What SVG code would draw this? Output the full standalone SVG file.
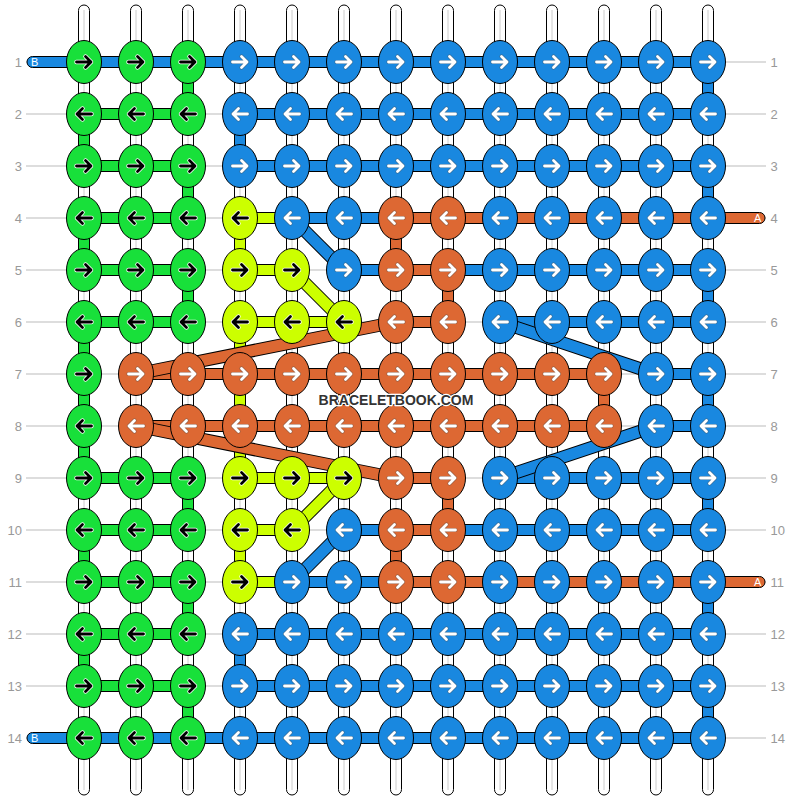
<svg xmlns="http://www.w3.org/2000/svg" width="792" height="800" viewBox="0 0 792 800">
<style>
.gl{stroke:#bbb;stroke-width:1}
.lb{font-family:"Liberation Sans",Arial,sans-serif;font-size:13px;fill:#999}
.wp{fill:#fff;stroke:#000;stroke-width:1}
.wc{stroke:#ccc;stroke-width:1}
.bar{stroke:#000;stroke-width:1}
.cG{fill:#18E03A}.cB{fill:#1988E0}.cO{fill:#DD6833}.cY{fill:#CCFF00}
.dk{stroke:#000;stroke-width:13}
.sB{stroke:#1988E0;stroke-width:11}.sO{stroke:#DD6833;stroke-width:11}.sY{stroke:#CCFF00;stroke-width:11}
.ld{font-family:"Liberation Sans",Arial,sans-serif;font-size:11px;fill:#fff}
.wm{font-family:"Liberation Sans",Arial,sans-serif;font-size:14px;font-weight:bold;fill:#333;stroke:#fff;stroke-width:2.5;paint-order:stroke;stroke-linejoin:round}
</style>
<defs>
<g id="w"><rect class="wp" x="-5.5" y="5" width="11" height="790" rx="5.5"/><line class="wc" x1="0" y1="10" x2="0" y2="790"/></g>
<ellipse id="e" rx="17.5" ry="21.5" stroke="#000" stroke-width="1"/>
<path id="R" d="M-7.5,0H7M1.5,-5.5L7,0L1.5,5.5" fill="none" stroke-linecap="round" stroke-linejoin="round"/>
<path id="L" d="M7.5,0H-7M-1.5,-5.5L-7,0L-1.5,5.5" fill="none" stroke-linecap="round" stroke-linejoin="round"/>
<g id="GR"><use href="#e" fill="#18E03A"/><use href="#R" stroke="#fff" stroke-width="4.4"/><use href="#R" stroke="#000" stroke-width="2.8"/></g>
<g id="GL"><use href="#e" fill="#18E03A"/><use href="#L" stroke="#fff" stroke-width="4.4"/><use href="#L" stroke="#000" stroke-width="2.8"/></g>
<g id="YR"><use href="#e" fill="#CCFF00"/><use href="#R" stroke="#fff" stroke-width="4.4"/><use href="#R" stroke="#000" stroke-width="2.8"/></g>
<g id="YL"><use href="#e" fill="#CCFF00"/><use href="#L" stroke="#fff" stroke-width="4.4"/><use href="#L" stroke="#000" stroke-width="2.8"/></g>
<g id="BR"><use href="#e" fill="#1988E0"/><use href="#R" stroke="#555" stroke-width="4.2" stroke-opacity="0.5"/><use href="#R" stroke="#fff" stroke-width="2.8"/></g>
<g id="BL"><use href="#e" fill="#1988E0"/><use href="#L" stroke="#555" stroke-width="4.2" stroke-opacity="0.5"/><use href="#L" stroke="#fff" stroke-width="2.8"/></g>
<g id="OR"><use href="#e" fill="#DD6833"/><use href="#R" stroke="#555" stroke-width="4.2" stroke-opacity="0.5"/><use href="#R" stroke="#fff" stroke-width="2.8"/></g>
<g id="OL"><use href="#e" fill="#DD6833"/><use href="#L" stroke="#555" stroke-width="4.2" stroke-opacity="0.5"/><use href="#L" stroke="#fff" stroke-width="2.8"/></g>
</defs>
<rect width="792" height="800" fill="#fff"/>
<g id="guides">
<line class="gl" x1="26" y1="62" x2="766" y2="62"/>
<line class="gl" x1="26" y1="114" x2="766" y2="114"/>
<line class="gl" x1="26" y1="166" x2="766" y2="166"/>
<line class="gl" x1="26" y1="218" x2="766" y2="218"/>
<line class="gl" x1="26" y1="270" x2="766" y2="270"/>
<line class="gl" x1="26" y1="322" x2="766" y2="322"/>
<line class="gl" x1="26" y1="374" x2="766" y2="374"/>
<line class="gl" x1="26" y1="426" x2="766" y2="426"/>
<line class="gl" x1="26" y1="478" x2="766" y2="478"/>
<line class="gl" x1="26" y1="530" x2="766" y2="530"/>
<line class="gl" x1="26" y1="582" x2="766" y2="582"/>
<line class="gl" x1="26" y1="634" x2="766" y2="634"/>
<line class="gl" x1="26" y1="686" x2="766" y2="686"/>
<line class="gl" x1="26" y1="738" x2="766" y2="738"/>
</g>
<g id="labels" class="lb">
<g text-anchor="end">
<text x="22" y="66.7">1</text><text x="22" y="118.7">2</text><text x="22" y="170.7">3</text><text x="22" y="222.7">4</text><text x="22" y="274.7">5</text><text x="22" y="326.7">6</text><text x="22" y="378.7">7</text><text x="22" y="430.7">8</text><text x="22" y="482.7">9</text><text x="22" y="534.7">10</text><text x="22" y="586.7">11</text><text x="22" y="638.7">12</text><text x="22" y="690.7">13</text><text x="22" y="742.7">14</text>
</g>
<g>
<text x="770.5" y="66.7">1</text><text x="770.5" y="118.7">2</text><text x="770.5" y="170.7">3</text><text x="770.5" y="222.7">4</text><text x="770.5" y="274.7">5</text><text x="770.5" y="326.7">6</text><text x="770.5" y="378.7">7</text><text x="770.5" y="430.7">8</text><text x="770.5" y="482.7">9</text><text x="770.5" y="534.7">10</text><text x="770.5" y="586.7">11</text><text x="770.5" y="638.7">12</text><text x="770.5" y="690.7">13</text><text x="770.5" y="742.7">14</text>
</g>
</g>
<g id="warps">
<use href="#w" x="84"/><use href="#w" x="136"/><use href="#w" x="188"/><use href="#w" x="240"/><use href="#w" x="292"/><use href="#w" x="344"/><use href="#w" x="396"/><use href="#w" x="448"/><use href="#w" x="500"/><use href="#w" x="552"/><use href="#w" x="604"/><use href="#w" x="656"/><use href="#w" x="708"/>
</g>
<g id="connectors">
<g id="vertical" class="bar">
<rect class="cG" x="182.5" y="62" width="11" height="52"/><rect class="cB" x="702.5" y="62" width="11" height="52"/>
<rect class="cG" x="78.5" y="114" width="11" height="52"/><rect class="cB" x="234.5" y="114" width="11" height="52"/>
<rect class="cG" x="182.5" y="166" width="11" height="52"/><rect class="cB" x="702.5" y="166" width="11" height="52"/>
<rect class="cG" x="78.5" y="218" width="11" height="52"/><rect class="cY" x="234.5" y="218" width="11" height="52"/><rect class="cO" x="390.5" y="218" width="11" height="52"/>
<rect class="cG" x="182.5" y="270" width="11" height="52"/><rect class="cO" x="442.5" y="270" width="11" height="52"/><rect class="cB" x="702.5" y="270" width="11" height="52"/>
<rect class="cG" x="78.5" y="322" width="11" height="156"/><rect class="cY" x="234.5" y="322" width="11" height="156"/>
<rect class="cO" x="598.5" y="374" width="11" height="52"/><rect class="cB" x="702.5" y="374" width="11" height="52"/>
<rect class="cG" x="182.5" y="478" width="11" height="52"/><rect class="cO" x="442.5" y="478" width="11" height="52"/><rect class="cB" x="702.5" y="478" width="11" height="52"/>
<rect class="cG" x="78.5" y="530" width="11" height="52"/><rect class="cY" x="234.5" y="530" width="11" height="52"/><rect class="cO" x="390.5" y="530" width="11" height="52"/>
<rect class="cG" x="182.5" y="582" width="11" height="52"/><rect class="cB" x="702.5" y="582" width="11" height="52"/>
<rect class="cG" x="78.5" y="634" width="11" height="52"/><rect class="cB" x="234.5" y="634" width="11" height="52"/>
<rect class="cG" x="182.5" y="686" width="11" height="52"/><rect class="cB" x="702.5" y="686" width="11" height="52"/>
</g>
<g id="horizontal" class="bar">
<rect class="cB" x="27" y="56.5" width="681" height="11" rx="5.5"/>
<rect class="cG" x="84" y="108.5" width="104" height="11"/><rect class="cB" x="240" y="108.5" width="468" height="11"/>
<rect class="cG" x="84" y="160.5" width="104" height="11"/><rect class="cB" x="240" y="160.5" width="468" height="11"/>
<rect class="cG" x="84" y="212.5" width="104" height="11"/><rect class="cY" x="240" y="212.5" width="52" height="11"/><rect class="cB" x="292" y="212.5" width="104" height="11"/><rect class="cO" x="396" y="212.5" width="369" height="11" rx="5.5"/>
<rect class="cG" x="84" y="264.5" width="104" height="11"/><rect class="cY" x="240" y="264.5" width="52" height="11"/><rect class="cB" x="344" y="264.5" width="52" height="11"/><rect class="cO" x="396" y="264.5" width="52" height="11"/><rect class="cB" x="448" y="264.5" width="260" height="11"/>
<rect class="cG" x="84" y="316.5" width="104" height="11"/><rect class="cY" x="240" y="316.5" width="104" height="11"/><rect class="cO" x="396" y="316.5" width="52" height="11"/><rect class="cB" x="500" y="316.5" width="208" height="11"/>
<rect class="cO" x="136" y="368.5" width="468" height="11"/><rect class="cB" x="656" y="368.5" width="52" height="11"/>
<rect class="cO" x="136" y="420.5" width="468" height="11"/><rect class="cB" x="656" y="420.5" width="52" height="11"/>
<rect class="cG" x="84" y="472.5" width="104" height="11"/><rect class="cY" x="240" y="472.5" width="104" height="11"/><rect class="cO" x="396" y="472.5" width="52" height="11"/><rect class="cB" x="500" y="472.5" width="208" height="11"/>
<rect class="cG" x="84" y="524.5" width="104" height="11"/><rect class="cY" x="240" y="524.5" width="52" height="11"/><rect class="cB" x="344" y="524.5" width="52" height="11"/><rect class="cO" x="396" y="524.5" width="52" height="11"/><rect class="cB" x="448" y="524.5" width="260" height="11"/>
<rect class="cG" x="84" y="576.5" width="104" height="11"/><rect class="cY" x="240" y="576.5" width="52" height="11"/><rect class="cB" x="292" y="576.5" width="104" height="11"/><rect class="cO" x="396" y="576.5" width="369" height="11" rx="5.5"/>
<rect class="cG" x="84" y="628.5" width="104" height="11"/><rect class="cB" x="240" y="628.5" width="468" height="11"/>
<rect class="cG" x="84" y="680.5" width="104" height="11"/><rect class="cB" x="240" y="680.5" width="468" height="11"/>
<rect class="cB" x="27" y="732.5" width="681" height="11" rx="5.5"/>
</g>
<g id="diagonal">
<line class="dk" x1="292" y1="218" x2="344" y2="270"/><line class="sB" x1="292" y1="218" x2="344" y2="270"/>
<line class="dk" x1="292" y1="270" x2="344" y2="322"/><line class="sY" x1="292" y1="270" x2="344" y2="322"/>
<line class="dk" x1="136" y1="374" x2="396" y2="322"/><line class="sO" x1="136" y1="374" x2="396" y2="322"/>
<line class="dk" x1="500" y1="322" x2="656" y2="374"/><line class="sB" x1="500" y1="322" x2="656" y2="374"/>
<line class="dk" x1="136" y1="426" x2="396" y2="478"/><line class="sO" x1="136" y1="426" x2="396" y2="478"/>
<line class="dk" x1="656" y1="426" x2="500" y2="478"/><line class="sB" x1="656" y1="426" x2="500" y2="478"/>
<line class="dk" x1="344" y1="478" x2="292" y2="530"/><line class="sY" x1="344" y1="478" x2="292" y2="530"/>
<line class="dk" x1="344" y1="530" x2="292" y2="582"/><line class="sB" x1="344" y1="530" x2="292" y2="582"/>
</g>
<g id="ends" class="ld">
<text x="31" y="66">B</text><text x="31" y="742">B</text>
<text x="754" y="222">A</text><text x="754" y="586">A</text>
</g>
</g>
<g id="knots">
<g id="k1-1"><use href="#GR" x="84" y="62"/></g><g id="k1-2"><use href="#GR" x="136" y="62"/></g><g id="k1-3"><use href="#GR" x="188" y="62"/></g><g id="k1-4"><use href="#BR" x="240" y="62"/></g><g id="k1-5"><use href="#BR" x="292" y="62"/></g><g id="k1-6"><use href="#BR" x="344" y="62"/></g><g id="k1-7"><use href="#BR" x="396" y="62"/></g><g id="k1-8"><use href="#BR" x="448" y="62"/></g><g id="k1-9"><use href="#BR" x="500" y="62"/></g><g id="k1-10"><use href="#BR" x="552" y="62"/></g><g id="k1-11"><use href="#BR" x="604" y="62"/></g><g id="k1-12"><use href="#BR" x="656" y="62"/></g><g id="k1-13"><use href="#BR" x="708" y="62"/></g>
<g id="k2-1"><use href="#GL" x="84" y="114"/></g><g id="k2-2"><use href="#GL" x="136" y="114"/></g><g id="k2-3"><use href="#GL" x="188" y="114"/></g><g id="k2-4"><use href="#BL" x="240" y="114"/></g><g id="k2-5"><use href="#BL" x="292" y="114"/></g><g id="k2-6"><use href="#BL" x="344" y="114"/></g><g id="k2-7"><use href="#BL" x="396" y="114"/></g><g id="k2-8"><use href="#BL" x="448" y="114"/></g><g id="k2-9"><use href="#BL" x="500" y="114"/></g><g id="k2-10"><use href="#BL" x="552" y="114"/></g><g id="k2-11"><use href="#BL" x="604" y="114"/></g><g id="k2-12"><use href="#BL" x="656" y="114"/></g><g id="k2-13"><use href="#BL" x="708" y="114"/></g>
<g id="k3-1"><use href="#GR" x="84" y="166"/></g><g id="k3-2"><use href="#GR" x="136" y="166"/></g><g id="k3-3"><use href="#GR" x="188" y="166"/></g><g id="k3-4"><use href="#BR" x="240" y="166"/></g><g id="k3-5"><use href="#BR" x="292" y="166"/></g><g id="k3-6"><use href="#BR" x="344" y="166"/></g><g id="k3-7"><use href="#BR" x="396" y="166"/></g><g id="k3-8"><use href="#BR" x="448" y="166"/></g><g id="k3-9"><use href="#BR" x="500" y="166"/></g><g id="k3-10"><use href="#BR" x="552" y="166"/></g><g id="k3-11"><use href="#BR" x="604" y="166"/></g><g id="k3-12"><use href="#BR" x="656" y="166"/></g><g id="k3-13"><use href="#BR" x="708" y="166"/></g>
<g id="k4-1"><use href="#GL" x="84" y="218"/></g><g id="k4-2"><use href="#GL" x="136" y="218"/></g><g id="k4-3"><use href="#GL" x="188" y="218"/></g><g id="k4-4"><use href="#YL" x="240" y="218"/></g><g id="k4-5"><use href="#BL" x="292" y="218"/></g><g id="k4-6"><use href="#BL" x="344" y="218"/></g><g id="k4-7"><use href="#OL" x="396" y="218"/></g><g id="k4-8"><use href="#OL" x="448" y="218"/></g><g id="k4-9"><use href="#BL" x="500" y="218"/></g><g id="k4-10"><use href="#BL" x="552" y="218"/></g><g id="k4-11"><use href="#BL" x="604" y="218"/></g><g id="k4-12"><use href="#BL" x="656" y="218"/></g><g id="k4-13"><use href="#BL" x="708" y="218"/></g>
<g id="k5-1"><use href="#GR" x="84" y="270"/></g><g id="k5-2"><use href="#GR" x="136" y="270"/></g><g id="k5-3"><use href="#GR" x="188" y="270"/></g><g id="k5-4"><use href="#YR" x="240" y="270"/></g><g id="k5-5"><use href="#YR" x="292" y="270"/></g><g id="k5-6"><use href="#BR" x="344" y="270"/></g><g id="k5-7"><use href="#OR" x="396" y="270"/></g><g id="k5-8"><use href="#OR" x="448" y="270"/></g><g id="k5-9"><use href="#BR" x="500" y="270"/></g><g id="k5-10"><use href="#BR" x="552" y="270"/></g><g id="k5-11"><use href="#BR" x="604" y="270"/></g><g id="k5-12"><use href="#BR" x="656" y="270"/></g><g id="k5-13"><use href="#BR" x="708" y="270"/></g>
<g id="k6-1"><use href="#GL" x="84" y="322"/></g><g id="k6-2"><use href="#GL" x="136" y="322"/></g><g id="k6-3"><use href="#GL" x="188" y="322"/></g><g id="k6-4"><use href="#YL" x="240" y="322"/></g><g id="k6-5"><use href="#YL" x="292" y="322"/></g><g id="k6-6"><use href="#YL" x="344" y="322"/></g><g id="k6-7"><use href="#OL" x="396" y="322"/></g><g id="k6-8"><use href="#OL" x="448" y="322"/></g><g id="k6-9"><use href="#BL" x="500" y="322"/></g><g id="k6-10"><use href="#BL" x="552" y="322"/></g><g id="k6-11"><use href="#BL" x="604" y="322"/></g><g id="k6-12"><use href="#BL" x="656" y="322"/></g><g id="k6-13"><use href="#BL" x="708" y="322"/></g>
<g id="k7-1"><use href="#GR" x="84" y="374"/></g><g id="k7-2"><use href="#OR" x="136" y="374"/></g><g id="k7-3"><use href="#OR" x="188" y="374"/></g><g id="k7-4"><use href="#OR" x="240" y="374"/></g><g id="k7-5"><use href="#OR" x="292" y="374"/></g><g id="k7-6"><use href="#OR" x="344" y="374"/></g><g id="k7-7"><use href="#OR" x="396" y="374"/></g><g id="k7-8"><use href="#OR" x="448" y="374"/></g><g id="k7-9"><use href="#OR" x="500" y="374"/></g><g id="k7-10"><use href="#OR" x="552" y="374"/></g><g id="k7-11"><use href="#OR" x="604" y="374"/></g><g id="k7-12"><use href="#BR" x="656" y="374"/></g><g id="k7-13"><use href="#BR" x="708" y="374"/></g>
<g id="k8-1"><use href="#GL" x="84" y="426"/></g><g id="k8-2"><use href="#OL" x="136" y="426"/></g><g id="k8-3"><use href="#OL" x="188" y="426"/></g><g id="k8-4"><use href="#OL" x="240" y="426"/></g><g id="k8-5"><use href="#OL" x="292" y="426"/></g><g id="k8-6"><use href="#OL" x="344" y="426"/></g><g id="k8-7"><use href="#OL" x="396" y="426"/></g><g id="k8-8"><use href="#OL" x="448" y="426"/></g><g id="k8-9"><use href="#OL" x="500" y="426"/></g><g id="k8-10"><use href="#OL" x="552" y="426"/></g><g id="k8-11"><use href="#OL" x="604" y="426"/></g><g id="k8-12"><use href="#BL" x="656" y="426"/></g><g id="k8-13"><use href="#BL" x="708" y="426"/></g>
<g id="k9-1"><use href="#GR" x="84" y="478"/></g><g id="k9-2"><use href="#GR" x="136" y="478"/></g><g id="k9-3"><use href="#GR" x="188" y="478"/></g><g id="k9-4"><use href="#YR" x="240" y="478"/></g><g id="k9-5"><use href="#YR" x="292" y="478"/></g><g id="k9-6"><use href="#YR" x="344" y="478"/></g><g id="k9-7"><use href="#OR" x="396" y="478"/></g><g id="k9-8"><use href="#OR" x="448" y="478"/></g><g id="k9-9"><use href="#BR" x="500" y="478"/></g><g id="k9-10"><use href="#BR" x="552" y="478"/></g><g id="k9-11"><use href="#BR" x="604" y="478"/></g><g id="k9-12"><use href="#BR" x="656" y="478"/></g><g id="k9-13"><use href="#BR" x="708" y="478"/></g>
<g id="k10-1"><use href="#GL" x="84" y="530"/></g><g id="k10-2"><use href="#GL" x="136" y="530"/></g><g id="k10-3"><use href="#GL" x="188" y="530"/></g><g id="k10-4"><use href="#YL" x="240" y="530"/></g><g id="k10-5"><use href="#YL" x="292" y="530"/></g><g id="k10-6"><use href="#BL" x="344" y="530"/></g><g id="k10-7"><use href="#OL" x="396" y="530"/></g><g id="k10-8"><use href="#OL" x="448" y="530"/></g><g id="k10-9"><use href="#BL" x="500" y="530"/></g><g id="k10-10"><use href="#BL" x="552" y="530"/></g><g id="k10-11"><use href="#BL" x="604" y="530"/></g><g id="k10-12"><use href="#BL" x="656" y="530"/></g><g id="k10-13"><use href="#BL" x="708" y="530"/></g>
<g id="k11-1"><use href="#GR" x="84" y="582"/></g><g id="k11-2"><use href="#GR" x="136" y="582"/></g><g id="k11-3"><use href="#GR" x="188" y="582"/></g><g id="k11-4"><use href="#YR" x="240" y="582"/></g><g id="k11-5"><use href="#BR" x="292" y="582"/></g><g id="k11-6"><use href="#BR" x="344" y="582"/></g><g id="k11-7"><use href="#OR" x="396" y="582"/></g><g id="k11-8"><use href="#OR" x="448" y="582"/></g><g id="k11-9"><use href="#BR" x="500" y="582"/></g><g id="k11-10"><use href="#BR" x="552" y="582"/></g><g id="k11-11"><use href="#BR" x="604" y="582"/></g><g id="k11-12"><use href="#BR" x="656" y="582"/></g><g id="k11-13"><use href="#BR" x="708" y="582"/></g>
<g id="k12-1"><use href="#GL" x="84" y="634"/></g><g id="k12-2"><use href="#GL" x="136" y="634"/></g><g id="k12-3"><use href="#GL" x="188" y="634"/></g><g id="k12-4"><use href="#BL" x="240" y="634"/></g><g id="k12-5"><use href="#BL" x="292" y="634"/></g><g id="k12-6"><use href="#BL" x="344" y="634"/></g><g id="k12-7"><use href="#BL" x="396" y="634"/></g><g id="k12-8"><use href="#BL" x="448" y="634"/></g><g id="k12-9"><use href="#BL" x="500" y="634"/></g><g id="k12-10"><use href="#BL" x="552" y="634"/></g><g id="k12-11"><use href="#BL" x="604" y="634"/></g><g id="k12-12"><use href="#BL" x="656" y="634"/></g><g id="k12-13"><use href="#BL" x="708" y="634"/></g>
<g id="k13-1"><use href="#GR" x="84" y="686"/></g><g id="k13-2"><use href="#GR" x="136" y="686"/></g><g id="k13-3"><use href="#GR" x="188" y="686"/></g><g id="k13-4"><use href="#BR" x="240" y="686"/></g><g id="k13-5"><use href="#BR" x="292" y="686"/></g><g id="k13-6"><use href="#BR" x="344" y="686"/></g><g id="k13-7"><use href="#BR" x="396" y="686"/></g><g id="k13-8"><use href="#BR" x="448" y="686"/></g><g id="k13-9"><use href="#BR" x="500" y="686"/></g><g id="k13-10"><use href="#BR" x="552" y="686"/></g><g id="k13-11"><use href="#BR" x="604" y="686"/></g><g id="k13-12"><use href="#BR" x="656" y="686"/></g><g id="k13-13"><use href="#BR" x="708" y="686"/></g>
<g id="k14-1"><use href="#GL" x="84" y="738"/></g><g id="k14-2"><use href="#GL" x="136" y="738"/></g><g id="k14-3"><use href="#GL" x="188" y="738"/></g><g id="k14-4"><use href="#BL" x="240" y="738"/></g><g id="k14-5"><use href="#BL" x="292" y="738"/></g><g id="k14-6"><use href="#BL" x="344" y="738"/></g><g id="k14-7"><use href="#BL" x="396" y="738"/></g><g id="k14-8"><use href="#BL" x="448" y="738"/></g><g id="k14-9"><use href="#BL" x="500" y="738"/></g><g id="k14-10"><use href="#BL" x="552" y="738"/></g><g id="k14-11"><use href="#BL" x="604" y="738"/></g><g id="k14-12"><use href="#BL" x="656" y="738"/></g><g id="k14-13"><use href="#BL" x="708" y="738"/></g>
</g>
<text class="wm" x="396" y="405" text-anchor="middle">BRACELETBOOK.COM</text>
</svg>
